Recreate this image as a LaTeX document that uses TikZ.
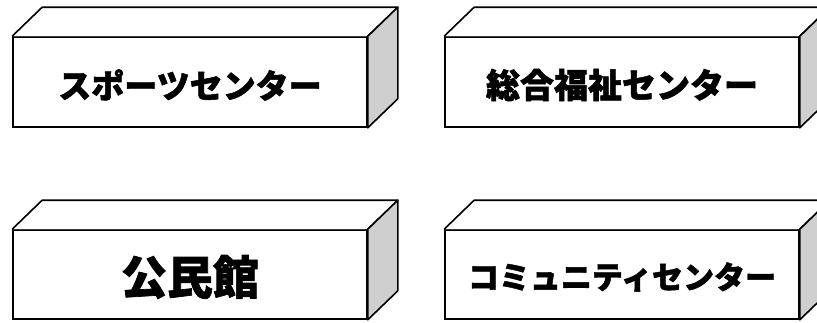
\documentclass[tikz,border=0pt]{standalone}
\usepackage{fontspec}
\newfontfamily\jp{Noto Sans CJK JP}[BoldFeatures={FakeBold=1.5}]
\tikzset{
  front/.style={draw=black, line width=1.6pt, fill=white, minimum width=354pt, minimum height=90pt, inner sep=0pt},
  topface/.style={draw=black, line width=1.6pt, fill=white, line join=round},
  sideface/.style={draw=black, line width=1.6pt, fill=black!19, line join=round},
  label/.style={font=\jp\bfseries\fontsize{#1}{#1}\selectfont}
}
\newcommand\blockbox[4]{% name, center x, center y, extra options
  \node[front, #4] (#1) at (#2pt,#3pt) {};
  \fill[white] (#1.north west) -- ++(30pt,29pt) -- ([shift={(30pt,29pt)}]#1.north east) -- (#1.north east) -- cycle;
  \draw[topface] (#1.north west) -- ++(30pt,29pt) -- ([shift={(30pt,29pt)}]#1.north east) -- (#1.north east);
  \draw[sideface] (#1.north east) -- ++(30pt,29pt) -- ([shift={(30pt,29pt)}]#1.south east) -- (#1.south east) -- cycle;
}
\begin{document}
\begin{tikzpicture}[x=1pt,y=1pt]
\useasboundingbox (0,0) rectangle (817,-322);
\clip (0,0) rectangle (817,-322);
\blockbox{a}{190}{-82}{}
\blockbox{b}{622}{-82}{}
\blockbox{c}{190}{-274.5}{minimum height=89pt}
\blockbox{d}{622}{-274.5}{minimum height=89pt}
\node[label=33] (ta) at (190,-85) {スポーツセンター};
\node[label=34] (tb) at (622,-85) {総合福祉センター};
\node[label=46] (tc) at (190,-277) {公民館};
\node[label=31] (td) at (622,-277) {コミュニティセンター};
\end{tikzpicture}
\end{document}
